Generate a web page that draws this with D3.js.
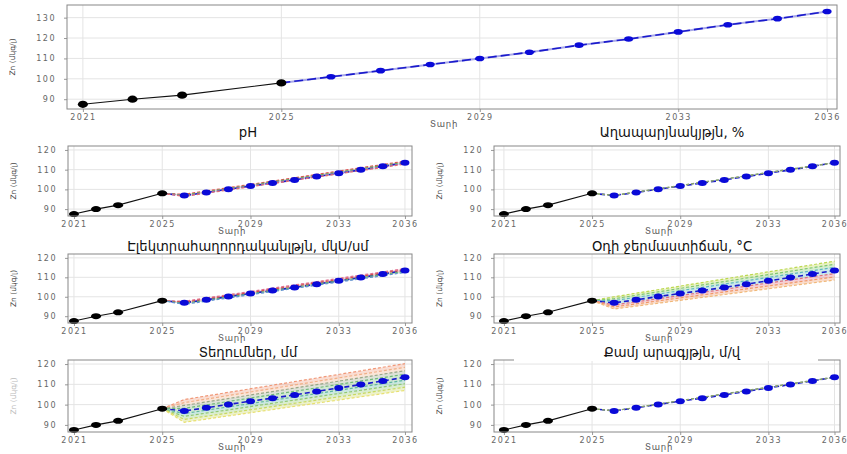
<!DOCTYPE html>
<html>
<head>
<meta charset="utf-8">
<script src="https://cdn.jsdelivr.net/npm/d3@7/dist/d3.min.js"></script>
<style>
  body { margin: 0; background: #fff; }
  svg { display: block; }
  .tick text { font-family: "DejaVu Sans", sans-serif; font-size: 8px; letter-spacing: 1.5px; fill: #666; }
</style>
</head>
<body>
<svg id="chart" width="847" height="454"></svg>
<script>
// observed Zn, µg/l
const histYears = [2021, 2022, 2023, 2025];
const histZn = [87.5, 90, 92, 98];

// forecast years and base forecast
const fcYears = [2025, 2026, 2027, 2028, 2029, 2030, 2031, 2032, 2033, 2034, 2035, 2036];
const topForecast = [98, 101, 104, 107, 110, 113, 116.5, 119.5, 123, 126.5, 129.5, 133];
const subForecast = [98, 96.9, 98.4, 100.1, 101.7, 103.2, 104.8, 106.5, 108.2, 109.9, 111.7, 113.5];

const xTicks = [2021, 2025, 2029, 2033, 2036];
const topYTicks = [90, 100, 110, 120, 130];
const subYTicks = [90, 100, 110, 120];

// scenario lines (value at 2025, 2026, 2036), top to bottom
const scenarioYears = [2025, 2026, 2036];
const phScen = [[98, 97.5, 114.3], [98, 97.1, 113.8], [98, 96.7, 113.2], [98, 96.4, 112.8]];
const salinityScen = [[98, 97.0, 113.6], [98, 96.9, 113.4]];
const condScen = [[98, 97.7, 114.5], [98, 97.2, 113.9], [98, 96.6, 113.1], [98, 96.1, 112.5]];
const tempScen = [[98, 100.0, 118.3], [98, 99.0, 116.7], [98, 98.0, 115.1], [98, 95.8, 111.9], [98, 94.8, 110.2], [98, 93.7, 108.6]];
const precipScen = [[98, 102.5, 120.2], [98, 101.0, 118.4], [98, 99.6, 116.7], [98, 98.2, 115.0], [98, 95.6, 112.0], [98, 94.2, 110.3], [98, 92.7, 108.6], [98, 91.3, 107.0]];
const windScen = [[98, 97.0, 113.6], [98, 96.9, 113.4]];

const phColors = ["#e05050", "#60b060", "#9060c0", "#e07070"];
const salinityColors = ["#7f9f6f", "#8aa070"];
const condColors = ["#e07090", "#d05050", "#60b070", "#6090d0"];
const tempColors = ["#bcd850", "#80c870", "#60b8c0", "#e07080", "#f09868", "#f0b878"];
const precipColors = ["#f09878", "#f0b088", "#98a888", "#70b878", "#60b8a0", "#90c870", "#c8d860", "#e8e070"];
const windColors = ["#7f9f6f", "#8aa070"];

const titles = ["pH", "Աղապարյնակյթյն, %", "Էլեկտրահաղորդականլթյն,  մկՍ/սմ", "Օդի ջերմաստիճան, °C", "Տեղումներ, մմ", "Քամյ արագյթյն, մ/վ"];
const yLabel = "Zn (մկգ/լ)";
const xLabel = "Տարի";

const svg = d3.select("#chart");

function drawPanel(o) {
  const g = svg.append("g");
  const x = d3.scaleLinear().domain(o.xDomain).range([o.left, o.right]);
  const y = d3.scaleLinear().domain(o.yDomain).range([o.bottom, o.top]);

  // grid
  g.append("g").selectAll("line").data(o.yTicks).join("line")
    .attr("x1", o.left).attr("x2", o.right)
    .attr("y1", d => y(d)).attr("y2", d => y(d))
    .attr("stroke", "#e4e4e4").attr("stroke-width", 1);
  g.append("g").selectAll("line").data(xTicks).join("line")
    .attr("x1", d => x(d)).attr("x2", d => x(d))
    .attr("y1", o.top).attr("y2", o.bottom)
    .attr("stroke", "#e4e4e4").attr("stroke-width", 1);

  // axes
  const ax = g.append("g").attr("transform", `translate(0,${o.bottom})`)
    .call(d3.axisBottom(x).tickValues(xTicks).tickFormat(d3.format("d")).tickSize(3).tickPadding(2));
  const ay = g.append("g").attr("transform", `translate(${o.left},0)`)
    .call(d3.axisLeft(y).tickValues(o.yTicks).tickSize(3).tickPadding(8));
  [ax, ay].forEach(a => {
    a.select(".domain").remove();
    a.selectAll(".tick line").attr("stroke", "#999");
  });

  const line = d3.line().x(d => x(d[0])).y(d => y(d[1]));

  // scenario bands
  if (o.scen) {
    for (let i = 0; i < o.scen.length - 1; i++) {
      const area = d3.area().x(d => x(d[0])).y0(d => y(d[2])).y1(d => y(d[1]));
      const rows = scenarioYears.map((yr, k) => [yr, o.scen[i][k], o.scen[i + 1][k]]);
      g.append("path").attr("d", area(rows))
        .attr("fill", o.colors[i]).attr("opacity", 0.33);
    }
  }

  // forecast center line
  const fc = fcYears.map((yr, i) => [yr, o.forecast[i]]);
  if (o.lavender) {
    g.append("path").attr("d", line(fc)).attr("fill", "none")
      .attr("stroke", "#a8a8e8").attr("stroke-width", 2);
  }
  g.append("path").attr("d", line(fc)).attr("fill", "none")
    .attr("stroke", "#1a1acc").attr("stroke-width", 1.6)
    .attr("stroke-dasharray", o.lavender ? "9,4" : "5,3");

  if (o.scen) {
    o.scen.forEach((s, i) => {
      g.append("path").attr("d", line(s.map((v, k) => [scenarioYears[k], v])))
        .attr("fill", "none").attr("stroke", o.colors[i])
        .attr("stroke-width", 1.2).attr("stroke-dasharray", "3,2");
    });
  }

  // history
  const hist = histYears.map((yr, i) => [yr, histZn[i]]);
  g.append("path").attr("d", line(hist)).attr("fill", "none")
    .attr("stroke", "#111").attr("stroke-width", 1.1);
  g.append("g").selectAll("ellipse").data(hist).join("ellipse")
    .attr("cx", d => x(d[0])).attr("cy", d => y(d[1]))
    .attr("rx", o.rx).attr("ry", o.ryBlack).attr("fill", "#000");

  g.append("g").selectAll("ellipse").data(fc.slice(1)).join("ellipse")
    .attr("cx", d => x(d[0])).attr("cy", d => y(d[1]))
    .attr("rx", o.rx - 0.5).attr("ry", o.ryBlue).attr("fill", "#0a0ad8");

  // frame
  g.append("rect").attr("x", o.left).attr("y", o.top)
    .attr("width", o.right - o.left).attr("height", o.bottom - o.top)
    .attr("fill", "none").attr("stroke", "#888").attr("stroke-width", 1);

  // labels
  g.append("text").attr("x", (o.left + o.right) / 2 - 8).attr("y", o.bottom + 18)
    .attr("text-anchor", "middle").attr("font-family", "DejaVu Sans, sans-serif")
    .attr("font-size", 8.5).attr("fill", "#555").attr("letter-spacing", 0.8).text(xLabel);
  const ly = (o.top + o.bottom) / 2;
  g.append("text").attr("transform", `translate(${o.left - 52},${ly}) rotate(-90)`)
    .attr("text-anchor", "middle").attr("font-family", "DejaVu Sans, sans-serif")
    .attr("font-size", 7.5).attr("fill", o.faintY ? "#bbb" : "#444").text(yLabel);

  if (o.title) {
    if (o.titleBox) {
      g.append("rect").attr("x", o.titleX - 158).attr("y", o.top - 3)
        .attr("width", 304).attr("height", 4).attr("fill", "#fff");
    }
    g.append("text").attr("x", o.titleX).attr("y", o.titleY)
      .attr("text-anchor", "middle").attr("font-family", "DejaVu Sans, sans-serif")
      .attr("font-size", 13.2).attr("fill", "#111").text(o.title);
  }
}

// top chart
drawPanel({
  left: 67, right: 837, top: 5, bottom: 109,
  xDomain: [2020.68, 2036.2], yDomain: [85.2, 136.2], yTicks: topYTicks,
  forecast: topForecast, lavender: true, rx: 5, ryBlack: 3.6, ryBlue: 2.8
});

const rows = [[146, 216], [254, 323], [360, 432]];
const titleY = [137, 251, 357];
const leftBox = { left: 68, right: 412, xDomain: [2020.73, 2036.32], titleX: 248 };
const rightBox = { left: 494, right: 840, xDomain: [2020.55, 2036.25], titleX: 672 };
const panelScen = [phScen, salinityScen, condScen, tempScen, precipScen, windScen];
const panelColors = [phColors, salinityColors, condColors, tempColors, precipColors, windColors];

panelScen.forEach((scen, i) => {
  const r = Math.floor(i / 2);
  const box = i % 2 === 0 ? leftBox : rightBox;
  drawPanel({
    left: box.left, right: box.right, top: rows[r][0], bottom: rows[r][1],
    xDomain: box.xDomain, yDomain: [86.5, 122], yTicks: subYTicks,
    forecast: subForecast, scen: scen, colors: panelColors[i],
    rx: 5, ryBlack: 3, ryBlue: 3,
    title: titles[i], titleX: box.titleX, titleY: titleY[r],
    faintY: i === 4, titleBox: i === 5
  });
});
</script>
</body>
</html>
